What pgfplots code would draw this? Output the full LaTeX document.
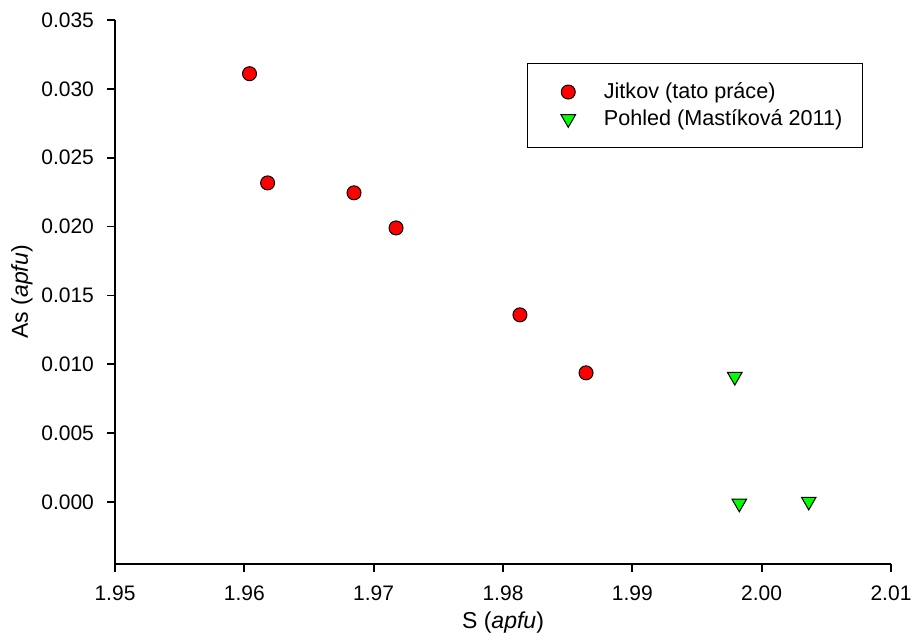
\documentclass[border=0pt]{standalone}
\usepackage{fontspec}
\setmainfont{Liberation Sans}
\usepackage{pgfplots}
\pgfplotsset{compat=1.18}
\pgfplotsset{myleg/.style={legend image code/.code={\path (0pt,0pt) (27.5pt,0pt); \draw[mark repeat=2,mark phase=2,##1] plot coordinates {(0pt,0pt)(12pt,0pt)(27.5pt,0pt)};}}}
\begin{document}
\begin{tikzpicture}
\begin{axis}[
  width=388pt, height=272pt, scale only axis,
  xmin=1.95, xmax=2.01, ymin=-0.0045, ymax=0.035,
  xtick={1.95,1.96,1.97,1.98,1.99,2.00,2.01},
  ytick={0,0.005,0.01,0.015,0.02,0.025,0.03,0.035},
  axis x line*=bottom, axis y line*=left,
  axis line style={line width=0.9pt, -},
  tick style={line width=0.9pt, black},
  tick align=outside, major tick length=4pt,
  xticklabel style={yshift=-3.5pt, /pgf/number format/.cd, fixed, fixed zerofill, precision=2, assume math mode=true},
  yticklabel style={xshift=-3pt, /pgf/number format/.cd, fixed, fixed zerofill, precision=3, assume math mode=true},
  scaled y ticks=false, scaled x ticks=false,
  ticklabel style={font=\fontsize{10.5}{12}\selectfont},
  xlabel={S (\textit{apfu})}, ylabel={As (\textit{apfu})},
  label style={font=\fontsize{11.5}{13}\selectfont},
  xlabel style={at={(axis description cs:0.5,-0.107)}, anchor=center},
  ylabel style={at={(axis description cs:-0.12,0.5)}, anchor=center, rotate=0},
  legend style={at={(axis description cs:0.531,0.921)}, anchor=north west,
    draw=black, line width=0.6pt, font=\fontsize{10.8}{12}\selectfont,
    inner xsep=8pt, inner ysep=7.5pt, row sep=0pt},
  legend cell align=left,
]
\addplot[only marks, myleg, mark=*, mark size=3.5pt, mark options={fill=red, draw=black, line width=0.5pt}]
coordinates {
(1.9604,0.0311)
(1.9618,0.02317)
(1.96848,0.02245)
(1.97173,0.0199)
(1.98131,0.01359)
(1.98642,0.00938)
};
\addlegendentry{Jitkov (tato práce)}
\addplot[only marks, myleg, mark=triangle*, mark size=4.2pt, mark options={rotate=180, fill=green, draw=black, line width=0.5pt}]
coordinates {
(1.99792,0.0091)
(1.99827,-0.0001)
(2.00364,0.00004)
};
\addlegendentry{Pohled (Mastíková 2011)}
\end{axis}
\pgfresetboundingbox
\useasboundingbox (current axis.south west) ++(-57.5pt,-37.5pt) rectangle ([shift={(10pt,10pt)}]current axis.north east);
\end{tikzpicture}
\end{document}
